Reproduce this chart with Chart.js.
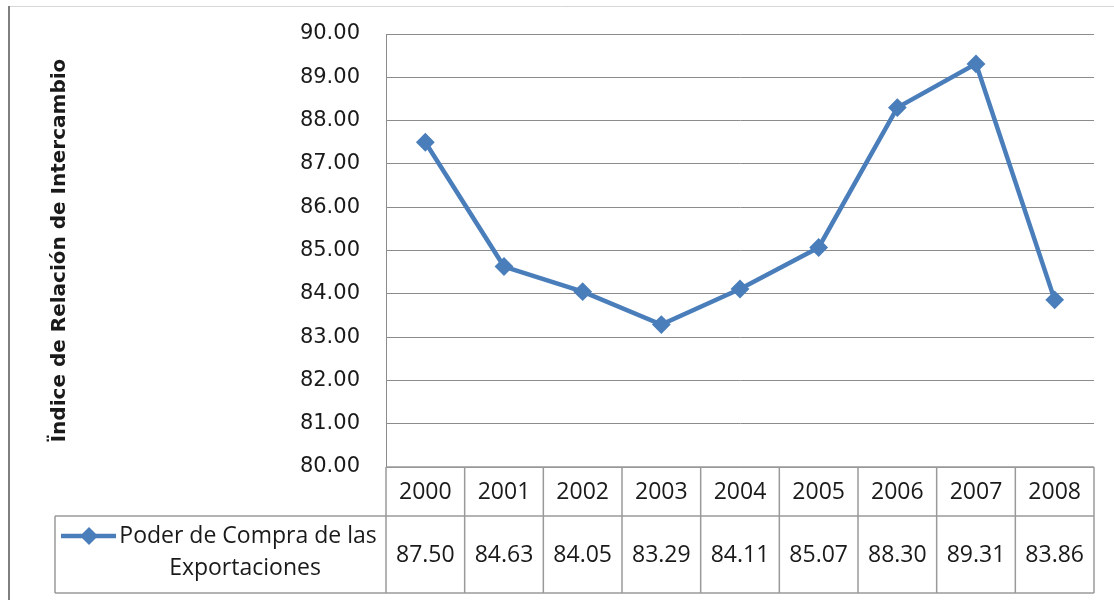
<!DOCTYPE html>
<html>
<head>
<meta charset="utf-8">
<script src="https://cdn.jsdelivr.net/npm/chart.js@4"></script>
<style>
  html, body { margin: 0; padding: 0; background: #fff; }
  #wrap { width: 1114px; height: 600px; position: relative; }
</style>
</head>
<body>
<div id="wrap"><canvas id="grafica"></canvas></div>
<script>
// datos
let anios = ['2000', '2001', '2002', '2003', '2004', '2005', '2006', '2007', '2008'];
let poderCompra = [87.50, 84.63, 84.05, 83.29, 84.11, 85.07, 88.30, 89.31, 83.86];
let serieNombre = ['Poder de Compra de las', 'Exportaciones'];
let tituloY = 'Ïndice de Relación de Intercambio';

let azul = '#4a7ebb';
let gris = '#8c8c8c';
let fuenteTabla = '23px "Open Sans"';

// marco exterior + tabla de datos bajo el grafico
let tablaDatos = {
    id: 'tablaDatos',
    beforeDraw(chart) {
        let ctx = chart.ctx;
        ctx.save();
        ctx.strokeStyle = '#d6d6d6';
        ctx.lineWidth = 1;
        ctx.beginPath();
        ctx.moveTo(9, 6.5);
        ctx.lineTo(chart.width, 6.5);
        ctx.stroke();
        ctx.strokeStyle = '#7f7f7f';
        ctx.lineWidth = 2;
        ctx.beginPath();
        ctx.moveTo(9, 6);
        ctx.lineTo(9, chart.height);
        ctx.stroke();
        ctx.restore();
    },
    afterDraw(chart) {
        let ctx = chart.ctx;
        let area = chart.chartArea;
        let x = chart.scales.x;
        let n = anios.length;
        let ancho = (area.right - area.left) / n;
        let y0 = area.bottom;
        let y1 = y0 + 49;
        let y2 = 593;
        let legIzq = 55;

        ctx.save();
        ctx.strokeStyle = '#9a9a9a';
        ctx.lineWidth = 1.5;
        ctx.beginPath();
        // horizontales
        ctx.moveTo(area.left, y0); ctx.lineTo(area.right, y0);
        ctx.moveTo(legIzq, y1); ctx.lineTo(area.right, y1);
        ctx.moveTo(legIzq, y2); ctx.lineTo(area.right, y2);
        // verticales
        ctx.moveTo(legIzq, y1); ctx.lineTo(legIzq, y2);
        for (let i = 0; i <= n; i++) {
            let xi = area.left + i * ancho;
            ctx.moveTo(xi, y0); ctx.lineTo(xi, y2);
        }
        ctx.stroke();

        ctx.fillStyle = '#1a1a1a';
        ctx.font = fuenteTabla;
        ctx.textAlign = 'center';
        ctx.textBaseline = 'middle';
        anios.forEach((a, i) => {
            let cx = x.getPixelForValue(i);
            ctx.fillText(a, cx, (y0 + y1) / 2 + 1);
            ctx.fillText(poderCompra[i].toFixed(2), cx, (y1 + y2) / 2 + 1);
        });

        // leyenda
        let ly = 536;
        ctx.strokeStyle = azul;
        ctx.lineWidth = 4.5;
        ctx.beginPath();
        ctx.moveTo(61, ly); ctx.lineTo(116, ly);
        ctx.stroke();
        ctx.fillStyle = azul;
        ctx.beginPath();
        ctx.moveTo(89 - 9, ly); ctx.lineTo(89, ly - 9);
        ctx.lineTo(89 + 9, ly); ctx.lineTo(89, ly + 9);
        ctx.closePath();
        ctx.fill();

        ctx.fillStyle = '#1a1a1a';
        let cx = 248;
        ctx.fillText(serieNombre[0], cx, ly);
        ctx.fillText(serieNombre[1], cx - 3, ly + 32);
        ctx.restore();
    }
};

let grafica = new Chart(document.getElementById('grafica').getContext('2d'), {
    type: 'line',
    data: {
        labels: anios,
        datasets: [{
            label: serieNombre.join(' '),
            data: poderCompra,
            borderColor: azul,
            backgroundColor: azul,
            borderWidth: 4.5,
            pointStyle: 'rectRot',
            pointRadius: 8,
            pointBorderWidth: 2,
            tension: 0
        }]
    },
    options: {
        responsive: true,
        maintainAspectRatio: false,
        animation: false,
        layout: { padding: { top: 34, right: 20, bottom: 133, left: 0 } },
        plugins: {
            legend: { display: false },
            tooltip: { enabled: false }
        },
        scales: {
            x: {
                display: false,
                offset: true
            },
            y: {
                min: 80,
                max: 90,
                afterFit(scale) {
                    scale.width = 386;
                    scale.paddingTop = 0;
                    scale.paddingBottom = 0;
                },
                ticks: {
                    stepSize: 1,
                    padding: 26,
                    color: '#1a1a1a',
                    font: { family: 'DejaVu Sans', size: 21 },
                    callback: v => v.toFixed(2)
                },
                grid: { color: gris, lineWidth: 1, drawTicks: false },
                border: { color: gris, width: 1 },
                title: {
                    display: true,
                    text: tituloY,
                    color: '#1a1a1a',
                    font: { family: 'DejaVu Sans', size: 20, weight: 'bold' },
                    padding: { top: 48, bottom: 0 }
                }
            }
        }
    },
    plugins: [tablaDatos]
});
</script>
</body>
</html>
